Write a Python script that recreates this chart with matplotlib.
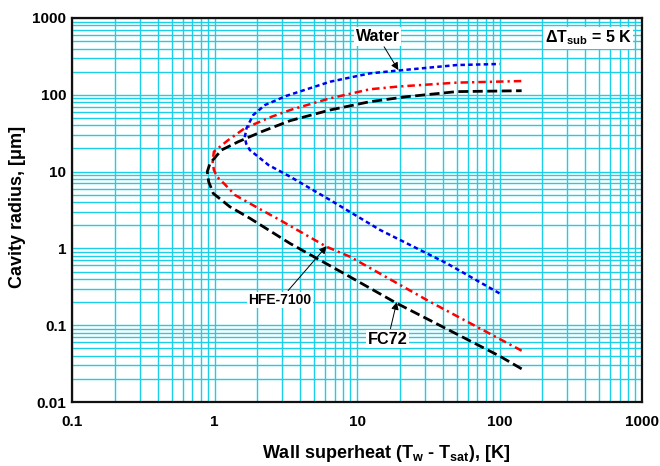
import matplotlib
matplotlib.use("Agg")
import matplotlib.pyplot as plt
from matplotlib.ticker import FixedLocator, FixedFormatter, LogLocator, NullFormatter

plt.rcParams['font.family'] = ['Liberation Sans', 'DejaVu Sans']
plt.rcParams['font.weight'] = 'bold'
plt.rcParams['mathtext.fontset'] = 'custom'
plt.rcParams['mathtext.rm'] = 'Liberation Sans:bold'
plt.rcParams['mathtext.bf'] = 'Liberation Sans:bold'
plt.rcParams['mathtext.it'] = 'Liberation Sans:bold'
plt.rcParams['mathtext.default'] = 'bf'

# Wall superheat [K] and cavity radius [um]; each curve runs from the
# small-radius branch, through the nose, out along the large-radius branch.
fc72_x = [143, 100, 19, 8.47, 3.39, 1.77, 1.28, 0.98, 0.91, 0.89,
          0.93, 1.12, 1.47, 2.14, 3.39, 6.47, 12.3, 22.3, 50, 143]
fc72_y = [0.027, 0.0397, 0.193, 0.45, 1.16, 2.47, 3.49, 5.2, 7.4, 10,
          12.8, 19.1, 24.5, 33.1, 46, 63.4, 81.3, 94.4, 110, 113]

hfe_x = [143, 32.5, 8.93, 6.12, 2.88, 2.14, 1.39, 1.18, 1.04, 0.99, 0.97,
         0.99, 1.25, 1.63, 2.52, 3.5, 6.47, 12.3, 19.4, 50, 143]
hfe_y = [0.0466, 0.202, 0.78, 1.05, 2.34, 3.16, 4.96, 6.84, 8.6, 10.5, 13.5,
         18.2, 25.8, 36.7, 51.9, 64.5, 90, 118, 128, 144, 151]

water_x = [100, 42.6, 14.5, 6.47, 3.39, 2.39, 1.77, 1.67, 1.63,
           1.68, 1.87, 2.26, 3.2, 6.47, 12.3, 19.4, 50, 100]
water_y = [0.26, 0.64, 1.74, 4.27, 8.6, 12.2, 19.1, 23, 28,
           37, 54.6, 73.6, 97, 148, 190, 207, 244, 252]

x_ticks = [0.1, 1, 10, 100, 1000]
x_tick_labels = ["0.1", "1", "10", "100", "1000"]
y_ticks = [0.01, 0.1, 1, 10, 100, 1000]
y_tick_labels = ["0.01", "0.1", "1", "10", "100", "1000"]

grid_color = '#1ccfe8'

fig = plt.figure(figsize=(6.6, 4.66), dpi=100)
ax = fig.add_axes([72 / 660, 1 - 402 / 466, 570 / 660, 384 / 466])
ax.set_xscale('log')
ax.set_yscale('log')
ax.set_xlim(0.1, 1000)
ax.set_ylim(0.01, 1000)

ax.xaxis.set_major_locator(FixedLocator(x_ticks))
ax.xaxis.set_major_formatter(FixedFormatter(x_tick_labels))
ax.yaxis.set_major_locator(FixedLocator(y_ticks))
ax.yaxis.set_major_formatter(FixedFormatter(y_tick_labels))
for axis in (ax.xaxis, ax.yaxis):
    axis.set_minor_locator(LogLocator(base=10, subs=range(2, 10), numticks=20))
    axis.set_minor_formatter(NullFormatter())

ax.grid(True, which='both', color=grid_color, lw=1.0)
ax.set_axisbelow(True)
ax.tick_params(which='both', length=0, labelsize=11)
ax.tick_params(axis='x', pad=9)
ax.tick_params(axis='y', pad=4)
for s in ax.spines.values():
    s.set_linewidth(1.6)
    s.set_color('#111111')
    s.set_zorder(5)

ax.plot(fc72_x, fc72_y, color='black', lw=2.0, dashes=(3.6, 1.6), zorder=3)
ax.plot(hfe_x, hfe_y, color='#ff0000', lw=1.8, dashes=(3.0, 1.6, 0.9, 1.6), zorder=3)
ax.plot(water_x, water_y, color='#0000ee', lw=1.8, dashes=(1.8, 1.3), zorder=3)

box = dict(boxstyle='square,pad=0.1', fc='white', ec='none')
arrow = dict(arrowstyle='-|>', color='black', lw=0.7, mutation_scale=11,
             shrinkA=1, shrinkB=0)

ax.annotate('Water', xy=(19.5, 210), xytext=(14.0, 574), ha='center', va='center',
            fontsize=11.5, fontweight='bold', bbox=box, arrowprops=arrow, zorder=6)
ax.annotate('HFE-7100', xy=(6.12, 1.07), xytext=(2.88, 0.213), ha='center', va='center',
            fontsize=10, fontweight='bold', bbox=box, arrowprops=arrow, zorder=6)
ax.annotate('FC72', xy=(19.0, 0.2), xytext=(16.5, 0.066), ha='center', va='center',
            fontsize=11.7, fontweight='bold', bbox=box, arrowprops=arrow, zorder=6)

ax.text(0.982, 0.948, 'ΔT$_{sub}$ = 5 K', transform=ax.transAxes, ha='right', va='center',
        fontsize=11.5, fontweight='bold', bbox=box, zorder=6)

fig.text(386 / 660, 1 - 453 / 466, 'Wall superheat (T$_{w}$ - T$_{sat}$), [K]',
         ha='center', va='center', fontsize=13, fontweight='bold')
fig.text(18 / 660, 1 - 207 / 466, 'Cavity radius, [μm]', rotation=90,
         ha='center', va='center', fontsize=13, fontweight='bold')

fig.savefig('out.png', dpi=100)
